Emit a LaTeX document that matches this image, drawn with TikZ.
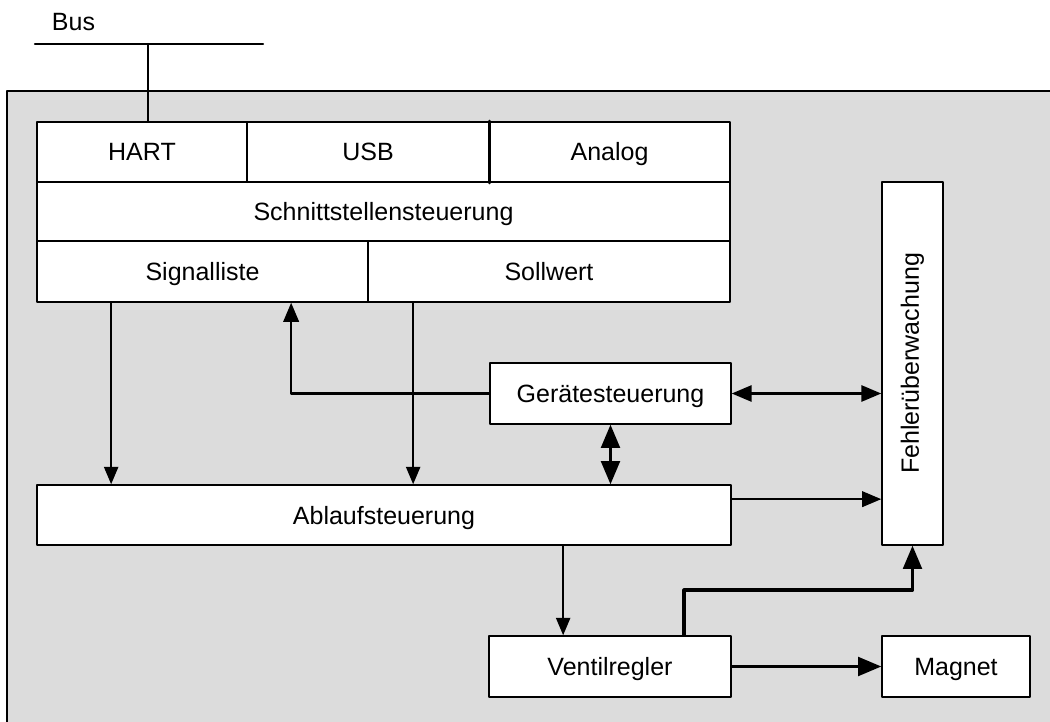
\documentclass[tikz,border=0pt]{standalone}
\usepackage{fontspec}
\setmainfont{Liberation Sans}
\usepackage{tikz}
\usetikzlibrary{arrows}
\usetikzlibrary{calc}
\definecolor{panelgray}{HTML}{DCDCDC}

\begin{document}
\begin{tikzpicture}[line cap=round,line join=round,>=triangle 45,x=0.5pt,y=-0.5pt,
  block/.style 2 args={draw,fill=white,line width=0.85pt,inner sep=0pt,minimum width=#1*0.5pt,minimum height=#2*0.5pt,text height=10pt,text depth=1pt,font=\fontsize{12.5}{15}\selectfont}]
\useasboundingbox (0,0) rectangle (1050,722);
%\clip (0,0) rectangle (1050,722);
\fill [panelgray] (7,91) rectangle (1050,722);
\draw [line width=1.1pt] (7,722)-- (7,91)-- (1050,91);
% bus
\coordinate (busL) at (35,44);
\coordinate (busR) at (263,44);
\node [font=\fontsize{12.5}{15}\selectfont] (buslabel) at (73.5,22) {Bus};
% interface block
\node [block={210}{60}] (hart) at (142,152) {HART};
\node [block={242}{60}] (usb) at (368,152) {USB};
\node [block={241}{60}] (analog) at (609.5,152) {Analog};
\node [block={693}{59}] (schnitt) at (383.5,211.5) {Schnittstellensteuerung};
\node [block={331}{61}] (signal) at (202.5,271.5) {Signalliste};
\node [block={362}{61}] (soll) at (549,271.5) {Sollwert};
% control
\node [block={241}{61}] (geraete) at (610.5,393.5) {Gerätesteuerung};
\node [block={694}{60}] (ablauf) at (384,515) {Ablaufsteuerung};
\node [block={242}{61}] (ventil) at (610,666.5) {Ventilregler};
\node [block={148}{61}] (magnet) at (956,666.5) {Magnet};
\node [block={61}{363},text height=,text depth=] (fehler) at (912.5,363.5) {\rotatebox{90}{Fehlerüberwachung}};
\draw [line width=1.5pt] (usb.north east)-- (usb.south east);
\draw [line width=1.2pt] (busL)-- (busR);
\draw [line width=1.2pt] ($(hart.north west)+(112,0)$) coordinate (tap)-- (tap |- busL);
\draw [line width=1pt,->] ($(signal.south west)+(75,0)$) coordinate (s1)-- (s1 |- ablauf.north);
\draw [line width=1pt,->] ($(soll.south west)+(46,0)$) coordinate (s2)-- (s2 |- ablauf.north);
\draw [line width=1.2pt,->] (geraete.west) -| ($(signal.south west)+(255,0)$);
\draw [line width=1.7pt,<->] (geraete.south)-- (geraete.south |- ablauf.north);
\draw [line width=1.3pt,<->] (geraete.east)-- (geraete.east -| fehler.west);
\draw [line width=1.2pt,->] ($(ablauf.north east)+(0,15)$) coordinate (s3)-- (s3 -| fehler.west);
\coordinate (s4) at ($(ventil.north west)+(75,0)$);
\draw [line width=1pt,->] (s4 |- ablauf.south)-- (s4);
\draw [line width=1.7pt,->] ($(ventil.north west)+(196,0)$) -- ++(0,-45) -| (fehler.south);
\draw [line width=1.7pt,->] (ventil.east)-- (magnet.west);
\end{tikzpicture}
\end{document}
